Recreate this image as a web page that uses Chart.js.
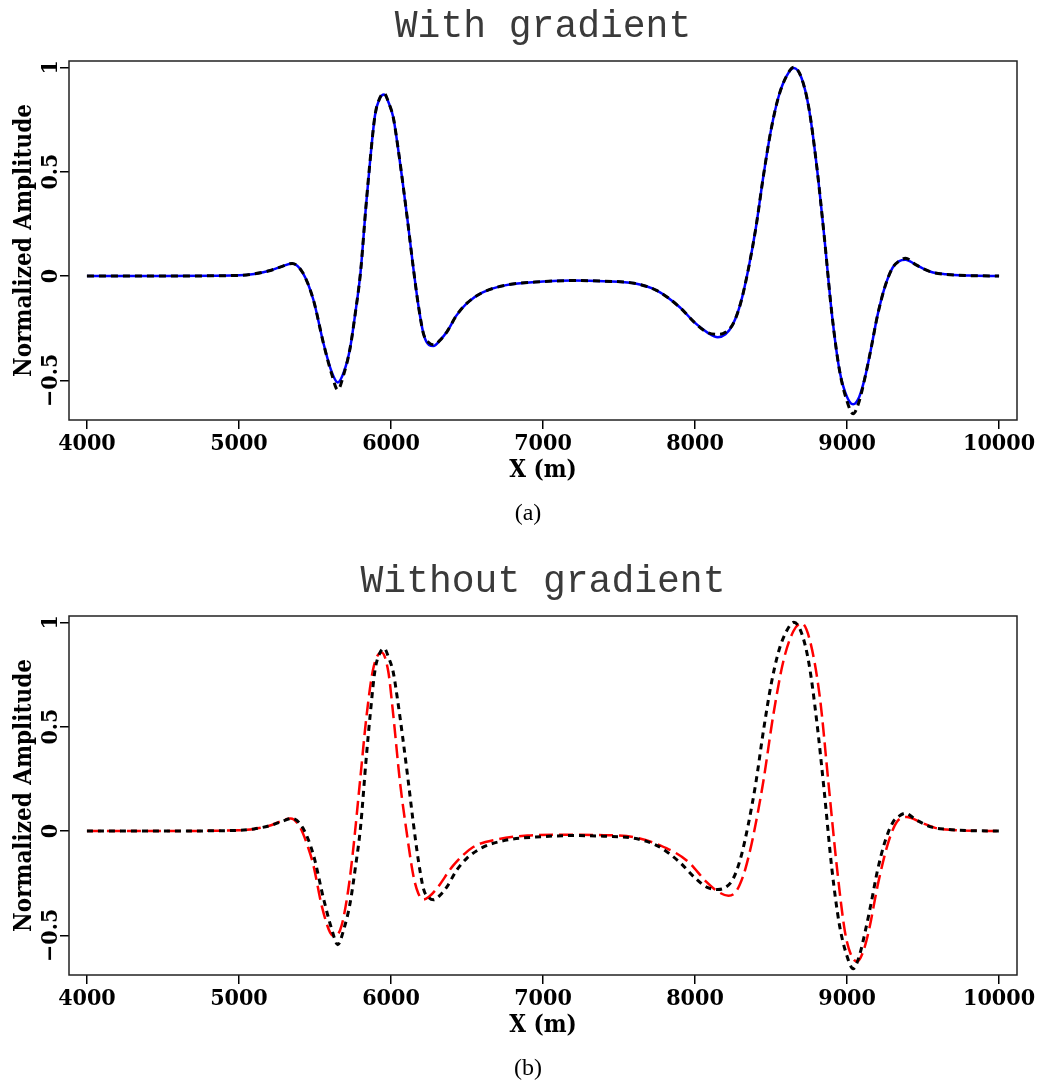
<!DOCTYPE html>
<html>
<head>
<meta charset="utf-8">
<script src="https://cdn.jsdelivr.net/npm/chart.js@4.4.1/dist/chart.umd.min.js"></script>
<style>
  html, body { margin: 0; padding: 0; background: #fff; }
  #wrap { position: relative; width: 1040px; height: 1082px; overflow: hidden; }
  canvas { position: absolute; left: 0; }
  #topChart { top: 0; }
  #bottomChart { top: 555px; }
</style>
</head>
<body>
<div id="wrap">
  <canvas id="topChart" width="1040" height="555"></canvas>
  <canvas id="bottomChart" width="1040" height="527"></canvas>
</div>
<script>
// offset positions (m) shared by the reference trace and the gradient result
const xGrid = [4000, 4500, 5000, 5100, 5200, 5280, 5350, 5420, 5490, 5555,
  5610, 5650, 5690, 5730, 5765, 5800, 5835, 5865, 5895, 5925,
  5955, 5985, 6015, 6045, 6075, 6110, 6145, 6180, 6215, 6250,
  6280, 6320, 6370, 6430, 6500, 6600, 6750, 7000, 7200, 7400,
  7600, 7750, 7900, 8000, 8080, 8150, 8200, 8250, 8300, 8350,
  8400, 8450, 8500, 8550, 8600, 8650, 8700, 8750, 8800, 8850,
  8900, 8950, 9000, 9040, 9080, 9120, 9160, 9200, 9250, 9300,
  9340, 9385, 9450, 9550, 9650, 9800, 10000];

// observed (black dashed)
const observedAmp = [0, 0, 0.003, 0.01, 0.025, 0.045, 0.06, 0.015, -0.115, -0.32,
  -0.47, -0.545, -0.47, -0.35, -0.18, 0.02, 0.33, 0.57, 0.77, 0.85,
  0.875, 0.83, 0.76, 0.62, 0.46, 0.26, 0.05, -0.14, -0.28, -0.32,
  -0.33, -0.31, -0.265, -0.19, -0.13, -0.08, -0.045, -0.027, -0.022, -0.025,
  -0.035, -0.07, -0.15, -0.225, -0.27, -0.28, -0.27, -0.23, -0.13, 0.03,
  0.23, 0.48, 0.70, 0.86, 0.955, 1.0, 0.95, 0.80, 0.53, 0.19,
  -0.18, -0.45, -0.6, -0.66, -0.6, -0.48, -0.34, -0.19, -0.05, 0.04,
  0.07, 0.085, 0.055, 0.02, 0.008, 0.002, 0];

// with gradient (blue solid)
const gradAmp = [0, 0, 0.003, 0.01, 0.025, 0.045, 0.06, 0.015, -0.115, -0.32,
  -0.46, -0.51, -0.46, -0.35, -0.18, 0.02, 0.33, 0.57, 0.77, 0.85,
  0.87, 0.83, 0.76, 0.62, 0.46, 0.26, 0.05, -0.14, -0.28, -0.33,
  -0.335, -0.31, -0.265, -0.19, -0.13, -0.08, -0.045, -0.027, -0.022, -0.025,
  -0.035, -0.07, -0.15, -0.225, -0.27, -0.293, -0.28, -0.23, -0.13, 0.03,
  0.23, 0.48, 0.70, 0.86, 0.955, 0.997, 0.95, 0.80, 0.53, 0.19,
  -0.18, -0.45, -0.58, -0.615, -0.58, -0.48, -0.34, -0.19, -0.05, 0.04,
  0.07, 0.078, 0.055, 0.02, 0.008, 0.002, 0];

// without gradient (red long dash)
const xNoGrad = [4000, 4500, 5000, 5100, 5200, 5270, 5340, 5400, 5460, 5490,
  5545, 5600, 5632, 5675, 5720, 5752, 5796, 5840, 5884, 5938,
  5982, 6015, 6059, 6103, 6147, 6180, 6213, 6250, 6300, 6410,
  6541, 6700, 6900, 7100, 7400, 7600, 7770, 7945, 8077, 8150,
  8220, 8270, 8318, 8350, 8384, 8449, 8515, 8581, 8647, 8702,
  8757, 8822, 8877, 8932, 8987, 9030, 9068, 9105, 9141, 9206,
  9272, 9327, 9393, 9480, 9580, 9700, 9850, 10000];
const noGradAmp = [0, 0, 0.003, 0.01, 0.025, 0.045, 0.06, 0.02, -0.09, -0.165,
  -0.36, -0.487, -0.505, -0.453, -0.277, -0.085, 0.236, 0.556, 0.78, 0.855,
  0.765, 0.556, 0.236, -0.005, -0.213, -0.3, -0.328, -0.315, -0.277, -0.165,
  -0.077, -0.04, -0.022, -0.018, -0.02, -0.03, -0.069, -0.141, -0.245, -0.29,
  -0.31, -0.29, -0.213, -0.13, -0.021, 0.236, 0.556, 0.813, 0.957, 0.995,
  0.909, 0.636, 0.236, -0.165, -0.486, -0.6, -0.625, -0.58, -0.486, -0.245,
  -0.053, 0.043, 0.067, 0.043, 0.015, 0.005, 0.001, 0];

const xTickValues = [4000, 5000, 6000, 7000, 8000, 9000, 10000];
const yTickValues = [-0.5, 0, 0.5, 1];
const yTickLabels = ['\u22120.5', '0', '0.5', '1'];

const boldFont = '"DejaVu Serif Condensed", "DejaVu Serif"';

function toPoints(xs, ys) {
  return xs.map((x, i) => ({ x: x, y: ys[i] }));
}

// titles, rotated y labels, frame and caption
const figureText = {
  id: 'figureText',
  afterDraw(chart, args, opts) {
    const ctx = chart.ctx;
    const area = chart.chartArea;
    const yScale = chart.scales.y;
    const midX = (area.left + area.right) / 2;
    ctx.save();

    ctx.strokeStyle = '#222';
    ctx.lineWidth = 1.5;
    ctx.strokeRect(area.left, area.top, area.right - area.left, area.bottom - area.top);

    ctx.fillStyle = '#3a3a3a';
    ctx.font = '38px "Liberation Mono"';
    ctx.textAlign = 'center';
    ctx.textBaseline = 'alphabetic';
    ctx.fillText(opts.title, midX, 37);

    ctx.fillStyle = '#000';
    ctx.font = 'bold 23px ' + boldFont;
    ctx.textBaseline = 'middle';
    yTickValues.forEach((v, i) => {
      ctx.save();
      ctx.translate(51, yScale.getPixelForValue(v));
      ctx.rotate(-Math.PI / 2);
      ctx.fillText(yTickLabels[i], 0, 0);
      ctx.restore();
    });

    ctx.font = 'bold 24px ' + boldFont;
    ctx.textBaseline = 'alphabetic';
    ctx.save();
    ctx.translate(31, (area.top + area.bottom) / 2);
    ctx.rotate(-Math.PI / 2);
    ctx.fillText('Normalized Amplitude', 0, 0);
    ctx.restore();

    ctx.fillText('X (m)', midX, 477);

    ctx.font = '24px "Liberation Serif"';
    ctx.fillText(opts.caption, 528, 520);
    ctx.restore();
  }
};

function makeChart(id, datasets, title, caption) {
  const canvas = document.getElementById(id);
  const h = canvas.height;
  const axisGrid = { display: true, drawOnChartArea: false, drawTicks: true, tickLength: 9, color: '#000', lineWidth: 1.5 };
  return new Chart(canvas, {
    type: 'line',
    data: { datasets: datasets },
    options: {
      responsive: false,
      animation: false,
      devicePixelRatio: 1,
      layout: { padding: { top: 61, right: 23, left: 0, bottom: 0 } },
      elements: { point: { radius: 0 } },
      scales: {
        x: {
          type: 'linear',
          min: 3882,
          max: 10118,
          afterBuildTicks: s => { s.ticks = xTickValues.map(v => ({ value: v })); },
          afterFit: s => { s.height = h - 420; },
          grid: axisGrid,
          border: { display: false },
          ticks: {
            color: '#000',
            padding: 1,
            maxRotation: 0,
            autoSkip: false,
            callback: v => String(v),
            font: { family: boldFont, weight: 'bold', size: 23 }
          }
        },
        y: {
          type: 'linear',
          min: -0.69,
          max: 1.03,
          afterBuildTicks: s => { s.ticks = yTickValues.map(v => ({ value: v })); },
          afterFit: s => { s.width = 69; },
          grid: axisGrid,
          border: { display: false },
          ticks: { display: false }
        }
      },
      plugins: {
        legend: { display: false },
        tooltip: { enabled: false },
        figureText: { title: title, caption: caption }
      }
    },
    plugins: [figureText]
  });
}

makeChart('topChart', [
  {
    data: toPoints(xGrid, observedAmp),
    borderColor: '#000',
    borderWidth: 3,
    borderDash: [7, 5],
    cubicInterpolationMode: 'monotone',
    fill: false
  },
  {
    data: toPoints(xGrid, gradAmp),
    borderColor: '#0000ff',
    borderWidth: 2.5,
    cubicInterpolationMode: 'monotone',
    fill: false
  }
], 'With gradient', '(a)');

makeChart('bottomChart', [
  {
    data: toPoints(xGrid, observedAmp),
    borderColor: '#000',
    borderWidth: 3,
    borderDash: [6, 5],
    cubicInterpolationMode: 'monotone',
    fill: false
  },
  {
    data: toPoints(xNoGrad, noGradAmp),
    borderColor: '#ff0000',
    borderWidth: 2.5,
    borderDash: [14, 6],
    cubicInterpolationMode: 'monotone',
    fill: false
  }
], 'Without gradient', '(b)');
</script>
</body>
</html>
